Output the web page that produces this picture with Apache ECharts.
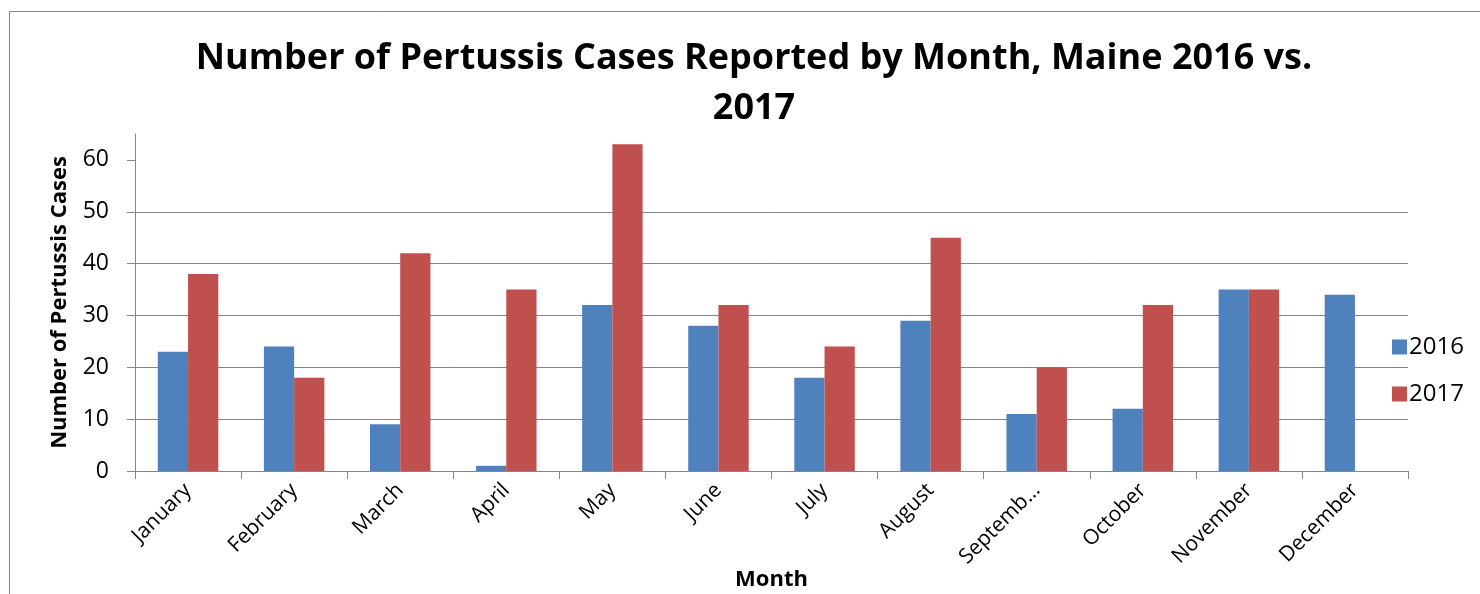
<!DOCTYPE html>
<html>
<head>
<meta charset="utf-8">
<title>Pertussis Cases by Month</title>
<script src="https://cdn.jsdelivr.net/npm/echarts@6/dist/echarts.min.js"></script>
<style>
  html, body { margin: 0; padding: 0; background: #fff; }
  #chart { width: 1480px; height: 594px; }
</style>
</head>
<body>
<div id="chart"></div>
<script>
// values
var months = ['January', 'February', 'March', 'April', 'May', 'June', 'July',
  'August', 'September', 'October', 'November', 'December'];
var cases2016 = [23, 24, 9, 1, 32, 28, 18, 29, 11, 12, 35, 34];
var cases2017 = [38, 18, 42, 35, 63, 32, 24, 45, 20, 32, 35, null];
var yTicks = [0, 10, 20, 30, 40, 50, 60];

var gray = '#868686';
var font = '"Open Sans", "Liberation Sans", sans-serif';

var myChart = echarts.init(document.getElementById('chart'));

var option = {
  animation: false,
  textStyle: { fontFamily: font, color: '#000' },
  title: {
    text: 'Number of Pertussis Cases Reported by Month, Maine 2016 vs.\n2017',
    left: 749,
    textAlign: 'center',
    top: 29,
    textStyle: { fontFamily: font, fontSize: 36, fontWeight: 'bold', color: '#000', lineHeight: 50 }
  },
  graphic: [{
    type: 'rect',
    shape: { x: 9.5, y: 11.5, width: 1500, height: 620 },
    style: { fill: 'none', stroke: gray, lineWidth: 1 },
    silent: true
  }],
  legend: {
    orient: 'vertical',
    left: 1387,
    top: 330,
    itemWidth: 15,
    itemHeight: 15,
    itemGap: 23,
    icon: 'rect',
    textStyle: { fontFamily: font, fontSize: 24, color: '#000', padding: [0, 0, 0, -3] },
    data: ['2016', '2017']
  },
  grid: { left: 135, right: 72, top: 134, bottom: 123, containLabel: false, outerBoundsMode: 'none' },
  xAxis: {
    type: 'category',
    data: months,
    name: 'Month',
    nameLocation: 'middle',
    nameGap: 98,
    nameMoveOverlap: false,
    nameTextStyle: { fontFamily: font, fontSize: 22, fontWeight: 'bold', color: '#000' },
    axisLine: { lineStyle: { color: gray, width: 1 } },
    axisTick: { show: true, length: 8, lineStyle: { color: gray }, alignWithLabel: false },
    axisLabel: {
      rotate: 45,
      margin: 16,
      fontSize: 21,
      color: '#000',
      interval: 0,
      formatter: function (v) { return v.length > 8 ? v.slice(0, 7) + '…' : v; }
    },
    splitLine: { show: false }
  },
  yAxis: {
    type: 'value',
    min: 0,
    max: 65,
    interval: 10,
    name: 'Number of Pertussis Cases',
    nameLocation: 'middle',
    nameGap: 64,
    nameRotate: 90,
    nameTextStyle: { fontFamily: font, fontSize: 22, fontWeight: 'bold', color: '#000' },
    axisLine: { show: true, lineStyle: { color: gray, width: 1 } },
    axisTick: { show: true, length: 8, lineStyle: { color: gray }, customValues: yTicks },
    axisLabel: { fontSize: 23, color: '#000', margin: 26, customValues: yTicks },
    splitLine: { show: true, showMaxLine: false, lineStyle: { color: gray, width: 1 } }
  },
  series: [
    {
      name: '2016',
      type: 'bar',
      data: cases2016,
      barGap: '0%',
      barCategoryGap: '43%',
      itemStyle: { color: '#4F81BD' }
    },
    {
      name: '2017',
      type: 'bar',
      data: cases2017,
      barGap: '0%',
      barCategoryGap: '43%',
      itemStyle: { color: '#C0504D' }
    }
  ]
};

myChart.setOption(option);
</script>
</body>
</html>
